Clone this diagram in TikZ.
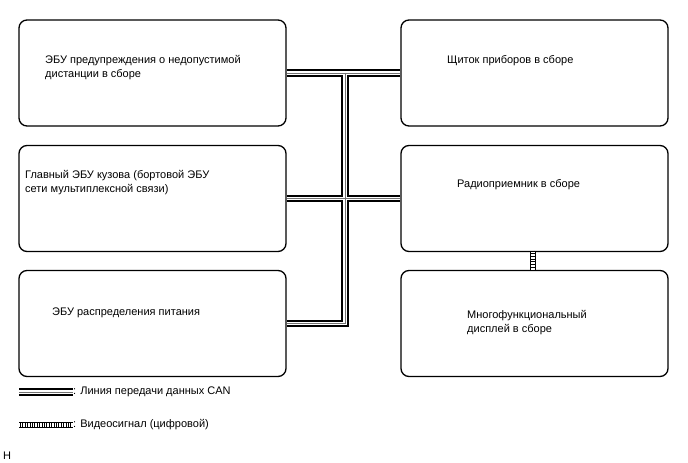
\documentclass[tikz,border=0pt]{standalone}
\usepackage{fontspec}
\setmainfont{Liberation Sans}
\definecolor{cangray}{gray}{0.45}
\begin{document}
\begin{tikzpicture}[x=1bp,y=-1bp,
  box/.style={draw=black,line width=1.3bp,rounded corners=8bp,minimum width=267bp,minimum height=106bp,inner sep=0pt},
  lbl/.style={anchor=north west,align=left,inner sep=0pt,font=\fontsize{11bp}{14bp}\selectfont},
  leg/.style={anchor=west,inner sep=0pt,font=\fontsize{11bp}{14bp}\selectfont}]
\useasboundingbox (0,0) rectangle (688,463);
% boxes
\node[box] (L1) at (152.5,73) {};
\node[box] (L2) at (152.5,198.5) {};
\node[box] (L3) at (152.5,323.5) {};
\node[box] (R1) at (534.5,73) {};
\node[box] (R2) at (534.5,198.5) {};
\node[box] (R3) at (534.5,323.5) {};
% labels
\node[lbl] (t1) at (45,55) {ЭБУ предупреждения о недопустимой\\дистанции в сборе};
\node[lbl] (t2) at (25,170) {Главный ЭБУ кузова (бортовой ЭБУ\\сети мультиплексной связи)};
\node[lbl] (t3) at (52,308) {ЭБУ распределения питания};
\node[lbl] (t4) at (447,55) {Щиток приборов в сборе};
\node[lbl] (t5) at (457,179) {Радиоприемник в сборе};
\node[lbl] (t6) at (467,310) {Многофункциональный\\дисплей в сборе};
% CAN bus
\coordinate (tx) at (345,0);
\foreach \w/\c in {7.6/black,3.6/white,0.9/cangray}{
  \draw[line width=\w bp,\c] (L1.east) -- (R1.west);
  \draw[line width=\w bp,\c] (L2.east) -- (R2.west);
  \draw[line width=\w bp,\c] (tx |- L1.east) -- (tx |- L3.east) -- (L3.east);
}
% video line
\coordinate (vx) at (533,0);
\draw[line width=5.4bp] (vx |- R2.south) -- (vx |- R3.north);
\draw[line width=3.6bp,white] (vx |- R2.south) -- (vx |- R3.north);
\draw[line width=3.8bp,dash pattern=on 0.7bp off 2bp] ([yshift=1.5bp]vx |- R2.south) -- ([yshift=-1bp]vx |- R3.north);
% legend
\node[leg] (g1) at (73,392) {: Линия передачи данных CAN};
\coordinate (g1s) at (19,392);
\foreach \w/\c in {7.6/black,3.6/white,0.9/cangray}{
  \draw[line width=\w bp,\c] (g1s) -- (g1.west);
}
\node[leg] (g2) at (73,425) {: Видеосигнал (цифровой)};
\coordinate (g2s) at (19,425);
\draw[line width=5.4bp] (g2s) -- (g2.west);
\draw[line width=3.6bp,white] (g2s) -- (g2.west);
\draw[line width=3.8bp,dash pattern=on 0.7bp off 1.7bp] ([xshift=1bp]g2s) -- ([xshift=-1bp]g2.west);
\node[leg] (hh) at (3,456) {H};
\end{tikzpicture}
\end{document}
